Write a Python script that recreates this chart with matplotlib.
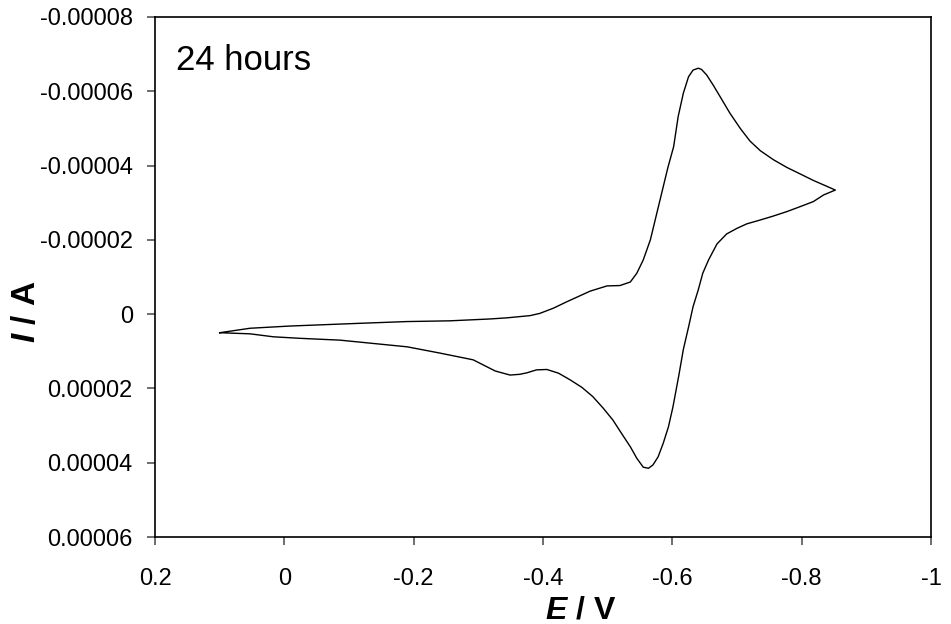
import numpy as np
import matplotlib.pyplot as plt
from matplotlib.ticker import FuncFormatter

# cyclic voltammogram, 24 hours
# forward sweep (0.1 V -> -0.85 V), current in microamps
E_fwd = [0.100, 0.053, -0.009, -0.112, -0.189, -0.256, -0.318, -0.344, -0.380,
         -0.395, -0.416, -0.437, -0.473, -0.499, -0.519, -0.535, -0.545, -0.555,
         -0.566, -0.576, -0.593, -0.602, -0.609, -0.617, -0.625, -0.632, -0.640,
         -0.645, -0.653, -0.663, -0.674, -0.689, -0.705, -0.720, -0.736, -0.756,
         -0.777, -0.797, -0.818, -0.839, -0.852]
I_fwd = [5.0, 3.8, 3.2, 2.5, 2.0, 1.8, 1.3, 1.0, 0.4,
         -0.2, -1.6, -3.35, -6.2, -7.6, -7.7, -8.65, -11.0, -14.6,
         -20.0, -27.2, -39.4, -45.1, -53.2, -59.5, -63.9, -65.7, -66.2,
         -65.9, -64.4, -61.7, -58.5, -54.1, -50.0, -46.6, -44.0, -41.6,
         -39.5, -37.8, -36.0, -34.4, -33.4]
# return sweep (-0.85 V -> 0.1 V)
E_rev = [-0.834, -0.818, -0.797, -0.777, -0.756, -0.736, -0.715, -0.700, -0.684,
         -0.669, -0.656, -0.647, -0.640, -0.632, -0.625, -0.617, -0.610, -0.601,
         -0.594, -0.586, -0.578, -0.570, -0.563, -0.555, -0.545, -0.535, -0.524,
         -0.508, -0.493, -0.477, -0.460, -0.442, -0.424, -0.406, -0.390, -0.375,
         -0.364, -0.349, -0.326, -0.292, -0.241, -0.190, -0.138, -0.086, -0.023,
         0.017, 0.053, 0.100]
I_rev = [-32.1, -30.3, -28.9, -27.6, -26.4, -25.35, -24.3, -23.1, -21.6,
         -18.9, -14.6, -11.0, -6.5, -2.0, 3.5, 9.5, 16.5, 24.9,
         30.3, 34.7, 38.4, 40.6, 41.5, 41.2, 38.8, 35.7, 32.8,
         28.5, 25.3, 22.2, 19.7, 17.7, 15.9, 14.9, 15.0, 15.8,
         16.2, 16.4, 15.3, 12.3, 10.5, 8.8, 7.9, 7.0, 6.5,
         6.1, 5.3, 5.0]

E = np.array(E_fwd + E_rev)
I = np.array(I_fwd + I_rev) * 1e-6

plt.rcParams['font.family'] = ['Liberation Sans', 'DejaVu Sans']
plt.rcParams['mathtext.fontset'] = 'custom'
plt.rcParams['mathtext.it'] = 'Liberation Sans:italic:bold'
plt.rcParams['mathtext.rm'] = 'Liberation Sans:bold'

fig = plt.figure(figsize=(9.51, 6.24), dpi=100)
ax = fig.add_axes([0.163, 0.1394, 0.816, 0.8334])

ax.plot(E, I, color='black', lw=1.0)

ax.set_xlim(0.2, -1.0)
ax.set_ylim(0.00006, -0.00008)
ax.set_xticks(np.arange(0.2, -1.01, -0.2))
ax.set_yticks(np.arange(-0.00008, 0.000061, 0.00002))
ax.xaxis.set_major_formatter(FuncFormatter(lambda v, p: '0' if abs(v) < 1e-9 else f'{v:g}'))
ax.yaxis.set_major_formatter(FuncFormatter(lambda v, p: '0' if abs(v) < 1e-12 else f'{v:.5f}'))

ax.tick_params(axis='both', direction='out', length=6, width=1.2, color='#555555')
ax.tick_params(axis='y', labelsize=17, pad=10)
ax.tick_params(axis='x', labelsize=17, pad=16)

for s in ax.spines.values():
    s.set_linewidth(1.2)
    s.set_color('black')

ax.set_xlabel(r'$\it{E}$ / V', fontsize=23, fontweight='bold')
ax.xaxis.label.set_verticalalignment('baseline')
ax.xaxis.set_label_coords(0.549, -0.1575)
ax.set_ylabel(r'$\it{I}$ / A', fontsize=24, fontweight='bold')
ax.yaxis.set_label_coords(-0.145, 0.433)

ax.text(0.027, 0.898, '24 hours', transform=ax.transAxes, fontsize=25, va='baseline')

plt.savefig('out.png', dpi=100)
